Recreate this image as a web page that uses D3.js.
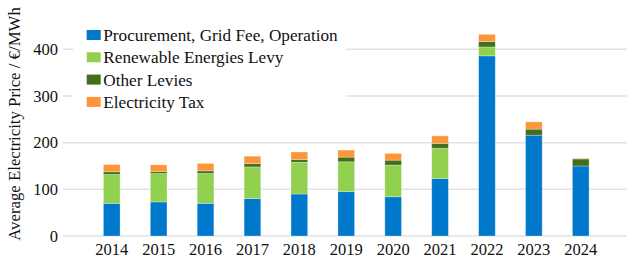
<!DOCTYPE html>
<html lang="en">
<head>
    <meta charset="UTF-8">
    <script src="https://d3js.org/d3.v7.min.js"></script>
    <title>Electricity price components</title>
    <style>
        body { margin: 0; background: #fff; }
        svg text { font-family: "Liberation Serif", "DejaVu Serif", serif; fill: #111; }
    </style>
</head>
<body>
    <div id="chart"></div>
    <script>
        // Data (€/MWh)
        const years = ["2014", "2015", "2016", "2017", "2018", "2019", "2020", "2021", "2022", "2023", "2024"];
        const procurement = [70, 73, 70, 80, 90, 95, 84, 123, 386, 216, 150];
        const renewables = [62, 61, 64, 68, 68, 64, 68, 65, 19, 0, 0];
        const otherLevies = [5.5, 4, 5.5, 7, 6, 10, 10.5, 10.5, 11.5, 13, 15];
        const electricityTax = [15.5, 14.5, 16, 16, 16, 15, 14.5, 16, 15.5, 15.5, 1.5];
        const yTicks = [0, 100, 200, 300, 400];

        const seriesNames = ["Procurement, Grid Fee, Operation", "Renewable Energies Levy", "Other Levies", "Electricity Tax"];
        const colors = ["#0078cc", "#92d050", "#426e1e", "#fd9638"];
        const keys = ["procurement", "renewables", "other", "tax"];

        const table = years.map((y, i) => ({
            year: y,
            procurement: procurement[i],
            renewables: renewables[i],
            other: otherLevies[i],
            tax: electricityTax[i]
        }));

        const width = 632;
        const height = 259;
        const serif = "'Liberation Serif', 'DejaVu Serif', serif";

        const svg = d3.select("#chart")
            .append("svg")
            .attr("width", width)
            .attr("height", height)
            .style("font-family", serif);

        // Scales
        const x = d3.scaleBand()
            .domain(years)
            .range([88.3, 604.2])
            .paddingInner(0.645)
            .paddingOuter(0.3225);

        const y = d3.scaleLinear()
            .domain([0, 400])
            .range([236, 49.3]);

        // Gridlines
        svg.append("g")
            .selectAll("line")
            .data(yTicks)
            .join("line")
            .attr("x1", 63)
            .attr("x2", 627)
            .attr("y1", d => y(d))
            .attr("y2", d => y(d))
            .attr("stroke", "#e2e2e2")
            .attr("stroke-width", 1.5);

        // Stacked bars
        const stacked = d3.stack().keys(keys)(table);

        svg.append("g")
            .selectAll("g")
            .data(stacked)
            .join("g")
            .attr("fill", (d, i) => colors[i])
            .selectAll("rect")
            .data(d => d)
            .join("rect")
            .attr("x", d => x(d.data.year))
            .attr("width", x.bandwidth())
            .attr("y", d => y(d[1]))
            .attr("height", d => Math.max(0, y(d[0]) - y(d[1])))
            .attr("stroke", "#ffffff")
            .attr("stroke-opacity", 0.35)
            .attr("stroke-width", 0.8);

        // Axes
        const xAxis = svg.append("g")
            .attr("transform", "translate(0,236)")
            .call(d3.axisBottom(x).tickSize(0).tickPadding(7.4))
            .attr("font-family", null)
            .attr("font-size", 16.5);
        xAxis.select(".domain").remove();
        xAxis.selectAll("text").style("font-family", serif).attr("fill", "#111");

        const yAxis = svg.append("g")
            .attr("transform", "translate(63,0)")
            .call(d3.axisLeft(y).tickValues(yTicks).tickSize(0).tickPadding(5))
            .attr("font-family", null)
            .attr("font-size", 16.5);
        yAxis.select(".domain").remove();
        yAxis.selectAll("text").style("font-family", serif).attr("fill", "#111");

        // Y-axis title
        svg.append("text")
            .attr("transform", "translate(20,124) rotate(-90)")
            .attr("text-anchor", "middle")
            .attr("font-size", 16.8)
            .style("font-family", serif)
            .text("Average Electricity Price / €/MWh");

        // Legend
        const legend = svg.append("g");
        legend.append("rect")
            .attr("x", 73)
            .attr("y", 22)
            .attr("width", 273)
            .attr("height", 91)
            .attr("fill", "#ffffff");

        const items = legend.selectAll("g")
            .data(seriesNames)
            .join("g")
            .attr("transform", (d, i) => `translate(86.7,${35 + i * 22.3})`);

        items.append("rect")
            .attr("x", 0)
            .attr("y", -5)
            .attr("width", 14)
            .attr("height", 10)
            .attr("fill", (d, i) => colors[i]);

        items.append("text")
            .attr("x", 16.6)
            .attr("dy", "0.35em")
            .attr("font-size", 17.2)
            .style("font-family", serif)
            .text(d => d);
    </script>
</body>
</html>
